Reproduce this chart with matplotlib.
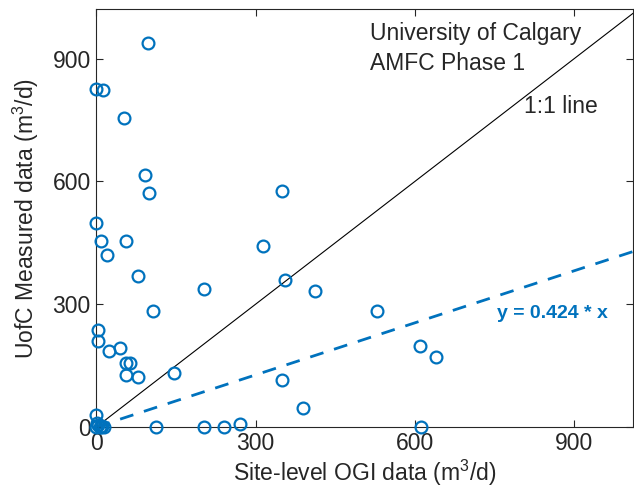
"""
UofC measured vs site-level OGI scatter.
"""

import matplotlib
matplotlib.use("Agg")
import matplotlib.pyplot as plt
import numpy as np


# site-level OGI (x) vs UofC measured (y), m3/d
ogi = [98, 0, 12, 52, 92, 99, 0, 9, 56, 20, 79, 202, 107, 3, 4, 23, 44, 55, 64,
       55, 79, 146, 0, 112, 202, 240, 271, 314, 350, 356, 412, 528, 609, 640,
       350, 389, 611, 0, 3, 6, 10, 14, 2, 8]
uofc = [938, 826, 822, 754, 616, 571, 498, 455, 455, 419, 369, 336, 283, 237, 210,
        185, 193, 155, 155, 126, 123, 132, 30, 0, 0, 0, 6, 443, 576, 360, 333,
        284, 198, 170, 114, 46, 0, 0, 4, 0, 3, 0, 10, 0]

slope = 0.424
xmax = 1010
ymax = 1020
ticks = [0, 300, 600, 900]

blue = "#0072BD"
dark = "#262626"

plt.rcParams["font.family"] = ["Liberation Sans", "DejaVu Sans"]
plt.rcParams["mathtext.default"] = "regular"


fig = plt.figure(figsize=(6.34, 4.97), dpi=100)
ax = fig.add_axes([0.152, 0.141, 0.846, 0.84])


ax.plot(ogi, uofc, "o", mfc="none", mec=blue, ms=8.5, mew=1.6, zorder=3,
        clip_on=False)

line_x = np.array([0, xmax])
ax.plot(line_x, line_x, color="black", lw=0.8)
ax.plot(line_x, slope * line_x, "--", color=blue, lw=2, dashes=(5, 4))


ax.text(515, 945, "University of Calgary", fontsize=16.5, color=dark)
ax.text(515, 872, "AMFC Phase 1", fontsize=16.5, color=dark)
ax.text(805, 766, "1:1 line", fontsize=16.5, color=dark)
ax.text(754, 266, "y = 0.424 * x", fontsize=14, color=blue,
        fontweight="bold")


ax.set_xlim(0, xmax)
ax.set_ylim(0, ymax)
ax.set_xticks(ticks)
ax.set_yticks(ticks)

ax.tick_params(direction="in", top=True, right=True, length=5,
               labelsize=16.5, colors=dark, pad=4)

for s in ax.spines.values():
    s.set_color(dark)
    s.set_linewidth(0.8)

ax.set_xlabel("Site-level OGI data (m$^{3}$/d)", fontsize=16.5,
              color=dark, labelpad=2)
ax.set_ylabel("UofC Measured data (m$^{3}$/d)", fontsize=16.5,
              color=dark, labelpad=8)


fig.savefig("out.png", dpi=100)
